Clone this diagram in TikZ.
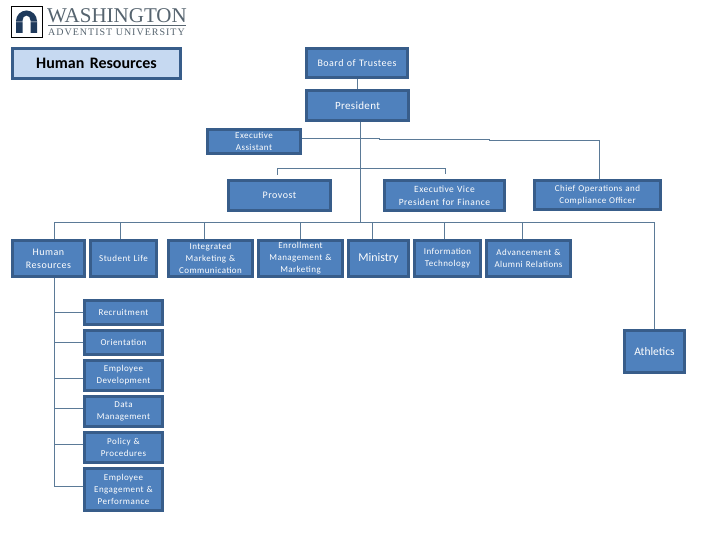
\documentclass[tikz,border=0pt]{standalone}
\usepackage{fontspec}
\setmainfont{Carlito}
\newfontfamily\logofont{Liberation Serif}
\definecolor{boxfill}{HTML}{4F81BD}
\definecolor{boxline}{HTML}{385D8A}
\definecolor{conn}{HTML}{5B7A97}
\definecolor{titlefill}{HTML}{C6D9F1}
\definecolor{logoink}{HTML}{56646F}
\definecolor{archink}{HTML}{1F3A5C}
\newcommand{\bx}[7][]{%
  \node[orgbox,#1,minimum width=#4-#2-3,minimum height=#5-#3-3,text width=#4-#2-4] (#6) at ({(#2+#4)/2},{(#3+#5)/2}) {#7};}
\tikzset{
  orgbox/.style={draw=boxline,fill=boxfill,line width=3pt,text=white,align=center,
    inner sep=0pt,outer sep=1.5pt,font=\fontsize{9}{12}\selectfont\addfontfeatures{LetterSpace=5}},
  bigger/.style={font=\fontsize{10}{13}\selectfont\addfontfeatures{LetterSpace=5}},
  conline/.style={draw=conn,line width=1.1pt},
}
\begin{document}
\begin{tikzpicture}[x=1pt,y=-1pt]
\useasboundingbox (0,0) rectangle (720,540);
% logo
\draw[black,line width=.6pt] (11,6) rectangle (42,37);
\fill[archink] (16,33) -- (16,21) arc[start angle=180,end angle=360,x radius=10.5,y radius=10.5] -- (37,33) -- (30.5,33) -- (30.5,20.5)
  arc[start angle=0,end angle=-180,x radius=4,y radius=5] -- (22.5,33) -- cycle;
\fill[white] (16,21.6) rectangle (23,22.2) (30,21.6) rectangle (37,22.2);
\node[anchor=west,inner sep=0pt,text=logoink,font=\logofont\fontsize{21}{21}\selectfont] (logoa) at (47,15.5) {WASHINGTON};
\node[anchor=west,inner sep=0pt,text=logoink,font=\logofont\fontsize{10}{10}\selectfont\addfontfeatures{LetterSpace=10}] (logob) at (48,32.5) {ADVENTIST UNIVERSITY};
\coordinate (lineL) at (48,25.5); \coordinate (lineR) at (186,25.5);
\draw[logoink,line width=.6pt] (lineL) -- (lineR);
% boxes
\bx[fill=titlefill,text=black,font=\fontsize{16}{18}\selectfont\bfseries]{11}{47}{182}{80}{title}{Human Resources}
\bx[bigger]{305}{47}{409}{79}{board}{Board of Trustees}
\bx[font=\fontsize{11}{13}\selectfont\addfontfeatures{LetterSpace=3}]{305}{89}{410}{122}{pres}{President}
\bx{206}{128}{302}{155}{ea}{Executive\\Assistant}
\bx[bigger]{227}{179}{332}{212}{provost}{Provost}
\bx[font=\fontsize{9.5}{13}\selectfont\addfontfeatures{LetterSpace=5}]{383}{179}{506}{212}{evp}{Executive Vice\\President for Finance}
\bx{533}{179}{662}{211}{coo}{Chief Operations and\\Compliance Officer}
\bx[bigger]{11}{239}{86}{278}{hr}{Human\\Resources}
\bx{89}{239}{158}{278}{student}{Student Life}
\bx{167}{239}{254}{278}{integrated}{Integrated\\Marketing \&\\Communication}
\bx{257}{239}{344}{278}{enroll}{Enrollment\\Management \&\\Marketing}
\bx[font=\fontsize{12}{14}\selectfont]{347}{239}{410}{278}{ministry}{Ministry}
\bx{413}{239}{482}{278}{it}{Information\\Technology}
\bx{485}{239}{572}{278}{adv}{Advancement \&\\Alumni Relations}
\bx{83}{299}{164}{326}{recruit}{Recruitment}
\bx{83}{329}{164}{356}{orient}{Orientation}
\bx{83}{359}{164}{392}{empdev}{Employee\\Development}
\bx{83}{395}{164}{428}{data}{Data\\Management}
\bx{83}{431}{164}{464}{policy}{Policy \&\\Procedures}
\bx{83}{467}{164}{512}{engage}{Employee\\Engagement \&\\Performance}
\bx[font=\fontsize{11.5}{13}\selectfont]{623}{329}{686}{374}{ath}{Athletics}
% helper points
\coordinate (busL) at (54.5,222.5);
\coordinate (busR) at (654.5,222.5);
\coordinate (trunk) at (360.5,222.5);
\coordinate (pl) at (277.5,168.5);
\coordinate (pr) at (445.5,168.5);
\coordinate (pld) at (277.5,175);
\coordinate (prd) at (445.5,174);
\coordinate (step1) at (379.5,138.5);
\coordinate (step2) at (379.5,139.5);
\coordinate (step3) at (489.5,139.5);
\coordinate (step4) at (489.5,140.5);
\coordinate (step5) at (599.5,140.5);
\coordinate (hrb) at (54.5,486.5);
% connectors
\draw[conline] (board.south -| 357.5,0) -- (pres.north -| 357.5,0);
\draw[conline] (pres.south -| trunk) -- (trunk);
\draw[conline] (ea.east |- step1) -- (step1) -- (step2) -- (step3) -- (step4) -- (step5) -- (step5 |- coo.north);
\draw[conline] (pld) -- (pl) -- (pr) -- (prd);
\draw[conline] (busL) -- (busR) -- (ath.north -| busR);
\draw[conline] (busL) -- (hr.north -| busL);
\foreach \n/\x in {student/120.5,integrated/204.5,enroll/300.5,ministry/372.5,it/444.5,adv/522.5}
  \draw[conline] (\x,222.5) -- (\n.north -| \x,0);
\draw[conline] (hr.south -| hrb) -- (hrb) -- (engage.west |- hrb);
\draw[conline] (54.5,312.5) -- (recruit.west |- 54.5,312.5);
\draw[conline] (54.5,342.5) -- (orient.west |- 54.5,342.5);
\draw[conline] (54.5,378.5) -- (empdev.west |- 54.5,378.5);
\draw[conline] (54.5,408.5) -- (data.west |- 54.5,408.5);
\draw[conline] (54.5,444.5) -- (policy.west |- 54.5,444.5);
\end{tikzpicture}
\end{document}
